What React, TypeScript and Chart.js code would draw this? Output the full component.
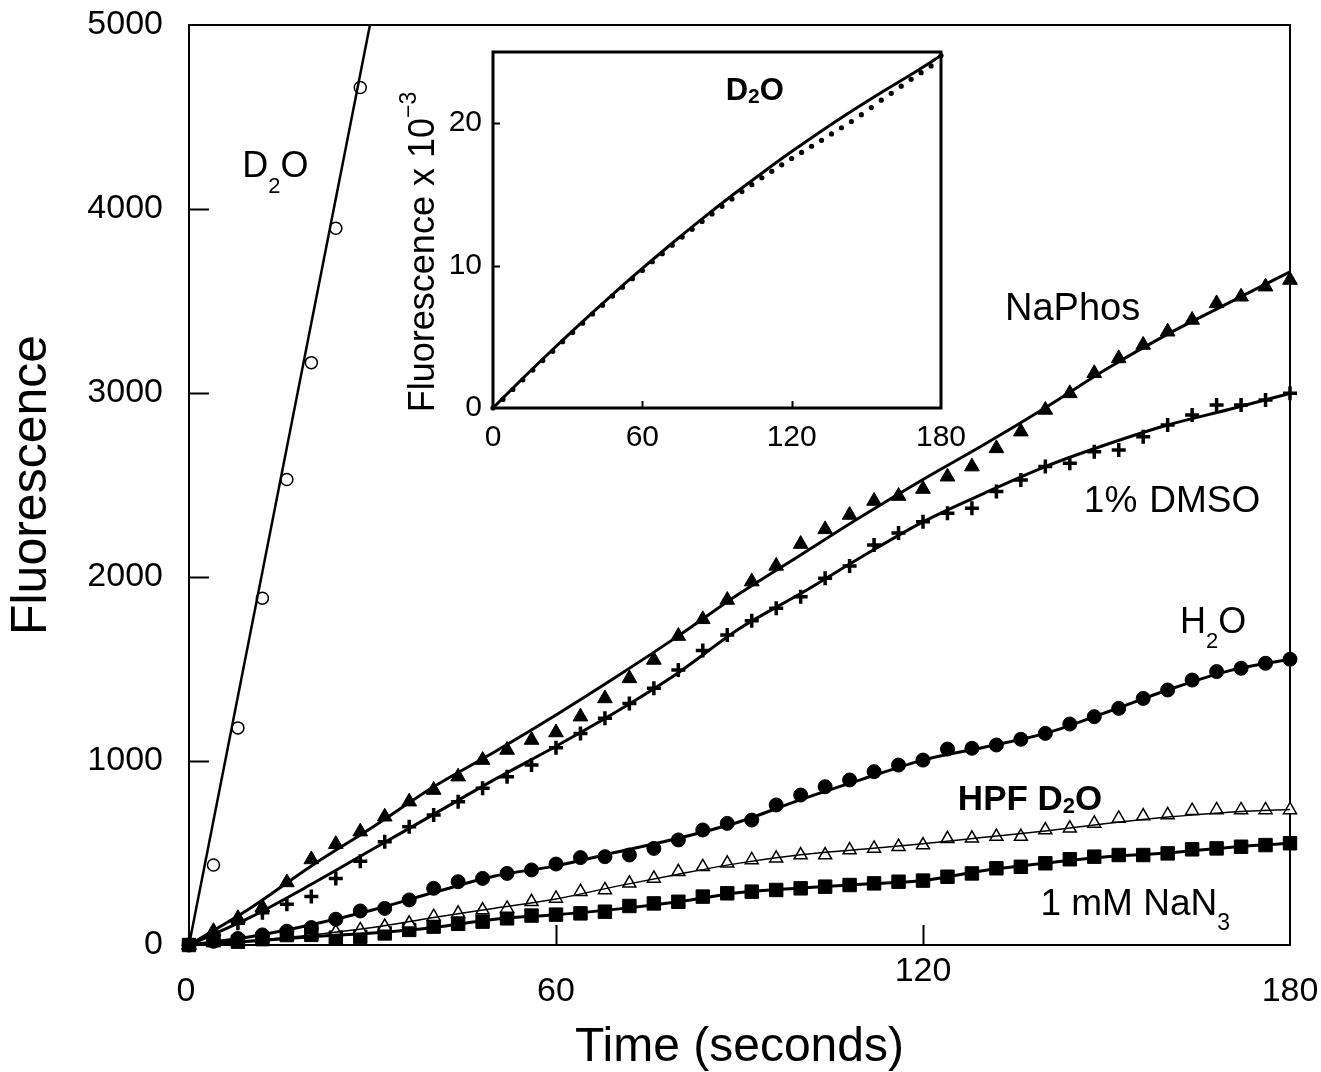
import React, { useEffect, useRef } from 'react';
import { Chart, registerables } from 'chart.js';

Chart.register(...registerables);

const FONT = '"Liberation Sans", Arial, Helvetica, sans-serif';

// ---------------- data (main panel) ----------------
const timeSec = [0, 4, 8, 12, 16, 20, 24, 28, 32, 36, 40, 44, 48, 52, 56, 60, 64, 68, 72, 76, 80, 84, 88, 92, 96, 100, 104, 108, 112, 116, 120, 124, 128, 132, 136, 140, 144, 148, 152, 156, 160, 164, 168, 172, 176, 180];
const fitTimeSec = [0, 10, 20, 30, 40, 50, 60, 70, 80, 90, 100, 110, 120, 130, 140, 150, 160, 170, 180];

const naPhosValues = [0, 75, 145, 205, 340, 465, 548, 616, 697, 779, 842, 915, 1005, 1060, 1114, 1155, 1241, 1340, 1449, 1549, 1679, 1770, 1875, 1975, 2060, 2179, 2259, 2337, 2413, 2440, 2478, 2545, 2600, 2699, 2790, 2908, 2998, 3107, 3188, 3261, 3333, 3397, 3487, 3523, 3578, 3614];
const dmsoValues = [0, 50, 118, 175, 222, 263, 362, 455, 561, 643, 707, 779, 852, 915, 978, 1072, 1150, 1232, 1313, 1395, 1495, 1600, 1685, 1762, 1830, 1893, 1993, 2060, 2174, 2239, 2300, 2346, 2373, 2464, 2527, 2600, 2618, 2681, 2690, 2762, 2826, 2880, 2935, 2935, 2962, 2998];
const h2oValues = [0, 20, 35, 55, 75, 95, 140, 185, 199, 245, 308, 344, 362, 389, 408, 440, 475, 480, 489, 525, 571, 625, 661, 679, 761, 815, 860, 897, 942, 978, 1005, 1065, 1069, 1087, 1118, 1150, 1201, 1241, 1286, 1340, 1386, 1440, 1486, 1504, 1531, 1553];
const hpfD2oValues = [0, 12, 25, 38, 48, 58, 70, 82, 100, 118, 154, 172, 190, 199, 235, 253, 290, 299, 335, 362, 398, 425, 444, 462, 471, 489, 489, 516, 525, 534, 543, 577, 580, 589, 589, 625, 634, 661, 688, 701, 707, 730, 734, 734, 734, 734];
const nan3Values = [0, 27, 18, 32, 54, 55, 40, 45, 63, 82, 100, 115, 127, 145, 160, 165, 172, 181, 212, 226, 235, 263, 281, 290, 299, 308, 317, 326, 335, 344, 350, 371, 389, 417, 425, 444, 466, 480, 489, 489, 498, 520, 525, 534, 543, 553];

const d2oTimeSec = [4, 8, 12, 16, 20, 24, 28];
const d2oValues = [435, 1180, 1885, 2530, 3165, 3895, 4660];
const d2oFitTimeSec = [0, 31];
const d2oFitValues = [0, 5240];

const naPhosFit = [0, 200, 430, 640, 860, 1050, 1250, 1460, 1680, 1910, 2120, 2330, 2530, 2720, 2920, 3130, 3320, 3490, 3659];
const dmsoFit = [0, 150, 330, 520, 710, 900, 1080, 1270, 1480, 1720, 1910, 2110, 2300, 2455, 2600, 2720, 2826, 2910, 2998];
const h2oFit = [0, 45, 110, 190, 285, 375, 430, 505, 580, 670, 790, 900, 1005, 1075, 1150, 1265, 1386, 1490, 1553];
const hpfD2oFit = [0, 25, 55, 95, 150, 200, 250, 320, 385, 445, 490, 520, 550, 585, 620, 660, 695, 722, 737];
const nan3Fit = [0, 20, 45, 65, 95, 140, 165, 195, 235, 285, 310, 330, 350, 405, 445, 480, 500, 530, 553];

const mainXTicks = [0, 60, 120, 180];

// ---------------- data (inset) ----------------
const insetDotValues = [0, 0.6, 1.3, 1.98, 2.66, 3.33, 3.98, 4.66, 5.3, 5.95, 6.6, 7.22, 7.86, 8.48, 9.08, 9.66, 10.27, 10.84, 11.43, 12.0, 12.55, 13.1, 13.63, 14.16, 14.68, 15.2, 15.68, 16.17, 16.62, 17.08, 17.52, 17.95, 18.38, 18.8, 19.25, 19.68, 20.12, 20.6, 21.1, 21.62, 22.1, 22.6, 23.08, 23.55, 24.02, 24.75];
const insetFitTimeSec = [0, 12, 24, 36, 48, 60, 72, 84, 96, 108, 120, 132, 144, 156, 168, 180];
const insetFitValues = [0, 2.09, 4.11, 6.07, 7.97, 9.8, 11.57, 13.28, 14.92, 16.49, 18.01, 19.46, 20.84, 22.16, 23.42, 24.75];

// ---------------- helpers ----------------
type Seg = { text: string; size: number; dy?: number; bold?: boolean };
type Note = { t: number; v: number; segs: Seg[] };

const pts = (xs: number[], ys: number[]) => xs.map((x, i) => ({ x, y: ys[i] }));

function drawSegs(ctx: CanvasRenderingContext2D, x: number, y: number, segs: Seg[]) {
  let cx = x;
  for (const s of segs) {
    ctx.font = `${s.bold ? 'bold ' : ''}${s.size}px ${FONT}`;
    ctx.fillText(s.text, cx, y + (s.dy || 0));
    cx += ctx.measureText(s.text).width;
  }
}
function segsWidth(ctx: CanvasRenderingContext2D, segs: Seg[]) {
  let w = 0;
  for (const s of segs) {
    ctx.font = `${s.bold ? 'bold ' : ''}${s.size}px ${FONT}`;
    w += ctx.measureText(s.text).width;
  }
  return w;
}

const mainNotes: Note[] = [
  { t: 8.7, v: 4174, segs: [{ text: 'D', size: 36 }, { text: '2', size: 22, dy: 16 }, { text: 'O', size: 36 }] },
  { t: 133.4, v: 3397, segs: [{ text: 'NaPhos', size: 38 }] },
  { t: 146.3, v: 2353, segs: [{ text: '1%', size: 37 }] },
  { t: 157.0, v: 2353, segs: [{ text: 'DMSO', size: 37 }] },
  { t: 162, v: 1696, segs: [{ text: 'H', size: 36 }, { text: '2', size: 22, dy: 15 }, { text: 'O', size: 36 }] },
  { t: 125.7, v: 734, segs: [{ text: 'HPF D', size: 35, bold: true }, { text: '2', size: 22, bold: true, dy: 3 }, { text: 'O', size: 35, bold: true }] },
  { t: 139.2, v: 163, segs: [{ text: '1 mM NaN', size: 37 }, { text: '3', size: 23, dy: 15 }] },
];
const insetNotes: Note[] = [
  { t: 93.5, v: 21.6, segs: [{ text: 'D', size: 31, bold: true }, { text: '2', size: 21, bold: true, dy: 3 }, { text: 'O', size: 31, bold: true }] },
];

function framePlugin(id: string, frameWidth: number, tickLen: number, tickWidth: number) {
  return {
    id,
    beforeDatasetsDraw(chart: any) {
      const { ctx, chartArea: a, scales } = chart;
      ctx.save();
      ctx.strokeStyle = '#000';
      ctx.lineWidth = tickWidth;
      const ys = scales.y;
      for (const t of ys.ticks) {
        if (t.value <= ys.min || t.value >= ys.max) continue;
        const y = Math.round(ys.getPixelForValue(t.value)) + 0.5;
        ctx.beginPath();
        ctx.moveTo(a.left, y);
        ctx.lineTo(a.left + tickLen, y);
        ctx.stroke();
      }
      const xs = scales.x;
      for (const t of xs.ticks) {
        if (t.value <= xs.min || t.value >= xs.max) continue;
        const x = Math.round(xs.getPixelForValue(t.value)) + 0.5;
        ctx.beginPath();
        ctx.moveTo(x, a.bottom);
        ctx.lineTo(x, a.bottom - tickLen);
        ctx.stroke();
      }
      ctx.lineWidth = frameWidth;
      ctx.strokeRect(a.left, a.top, a.right - a.left, a.bottom - a.top);
      ctx.restore();
    },
  };
}

function notesPlugin(id: string, notes: Note[]) {
  return {
    id,
    afterDraw(chart: any) {
      const { ctx, scales } = chart;
      ctx.save();
      ctx.fillStyle = '#000';
      ctx.textAlign = 'left';
      ctx.textBaseline = 'alphabetic';
      for (const n of notes) {
        drawSegs(ctx, scales.x.getPixelForValue(n.t), scales.y.getPixelForValue(n.v), n.segs);
      }
      ctx.restore();
    },
  };
}

const mainXLabelsPlugin = {
  id: 'mainXLabels',
  afterDraw(chart: any) {
    const { ctx, chartArea: a, scales } = chart;
    ctx.save();
    ctx.fillStyle = '#000';
    ctx.font = `34px ${FONT}`;
    ctx.textAlign = 'center';
    ctx.textBaseline = 'middle';
    for (const v of mainXTicks) {
      const px = scales.x.getPixelForValue(v);
      ctx.fillText(String(v), px - (v === 0 ? 3 : 0), a.bottom + (v === 120 ? 27 : 47));
    }
    ctx.restore();
  },
};

const insetTitlePlugin = {
  id: 'insetTitle',
  afterDraw(chart: any) {
    const { ctx, chartArea: a } = chart;
    const segs: Seg[] = [
      { text: 'Fluorescence x 10', size: 36 },
      { text: '\u22123', size: 23, dy: -18 },
    ];
    ctx.save();
    ctx.fillStyle = '#000';
    ctx.textBaseline = 'alphabetic';
    ctx.textAlign = 'left';
    ctx.translate(a.left - 59, (a.top + a.bottom) / 2 + 22);
    ctx.rotate(-Math.PI / 2);
    const w = segsWidth(ctx, segs);
    drawSegs(ctx, -w / 2, 0, segs);
    ctx.restore();
  },
};

const fitDs = (label: string, xs: number[], ys: number[], width: number) => ({
  label,
  data: pts(xs, ys),
  showLine: true,
  pointRadius: 0,
  borderColor: '#000',
  borderWidth: width,
  tension: 0.4,
  cubicInterpolationMode: 'monotone',
  clip: 0,
});

const markerDs = (label: string, xs: number[], ys: number[], style: any) => ({
  label,
  data: pts(xs, ys),
  showLine: false,
  clip: false,
  pointBorderColor: '#000',
  ...style,
});

export default function App() {
  const mainRef = useRef<HTMLCanvasElement>(null);
  const insetRef = useRef<HTMLCanvasElement>(null);

  useEffect(() => {
    const main = new Chart(mainRef.current!, {
      type: 'scatter',
      data: {
        datasets: [
          fitDs('D2O fit', d2oFitTimeSec, d2oFitValues, 2.5),
          fitDs('NaPhos fit', fitTimeSec, naPhosFit, 3),
          fitDs('1% DMSO fit', fitTimeSec, dmsoFit, 3),
          fitDs('H2O fit', fitTimeSec, h2oFit, 3),
          fitDs('HPF D2O fit', fitTimeSec, hpfD2oFit, 1.5),
          fitDs('1 mM NaN3 fit', fitTimeSec, nan3Fit, 3),
          markerDs('D2O', d2oTimeSec, d2oValues, { pointStyle: 'circle', pointRadius: 6, pointBackgroundColor: '#fff', pointBorderWidth: 1.5 }),
          markerDs('NaPhos', timeSec, naPhosValues, { pointStyle: 'triangle', pointRadius: 8.5, pointBackgroundColor: '#000', pointBorderWidth: 1 }),
          markerDs('1% DMSO', timeSec, dmsoValues, { pointStyle: 'cross', pointRadius: 7, pointBorderWidth: 3.5 }),
          markerDs('H2O', timeSec, h2oValues, { pointStyle: 'circle', pointRadius: 7, pointBackgroundColor: '#000', pointBorderWidth: 1 }),
          markerDs('HPF D2O', timeSec, hpfD2oValues, { pointStyle: 'triangle', pointRadius: 7.5, pointBackgroundColor: '#fff', pointBorderWidth: 1.5 }),
          markerDs('1 mM NaN3', timeSec, nan3Values, { pointStyle: 'rect', pointRadius: 9.5, pointBackgroundColor: '#000', pointBorderWidth: 1 }),
        ] as any,
      },
      options: {
        responsive: false,
        animation: false,
        devicePixelRatio: 1,
        layout: { padding: { top: 25, right: 31, left: 0, bottom: 0 } },
        plugins: { legend: { display: false }, tooltip: { enabled: false } },
        scales: {
          x: {
            type: 'linear',
            min: 0,
            max: 180,
            grid: { display: false, drawTicks: false },
            border: { display: false },
            ticks: { display: false, stepSize: 60, padding: 0 },
            title: { display: true, text: 'Time (seconds)', color: '#000', font: { family: FONT, size: 48, lineHeight: 1 }, padding: { top: 0, bottom: 0 } },
            afterFit: (s: any) => { s.height = 127; },
          },
          y: {
            type: 'linear',
            min: 0,
            max: 5000,
            grid: { display: false, drawTicks: true, tickLength: 26 },
            border: { display: false },
            ticks: {
              stepSize: 500,
              padding: 0,
              color: '#000',
              font: { family: FONT, size: 34 },
              callback: (v: any) => (Number(v) % 1000 === 0 ? String(v) : null),
            },
            title: { display: true, text: 'Fluorescence', color: '#000', font: { family: FONT, size: 50, lineHeight: 1 }, padding: { top: 7, bottom: 0 } },
            afterFit: (s: any) => { s.width = 189; },
          },
        },
      } as any,
      plugins: [framePlugin('mainFrame', 2, 20, 2), notesPlugin('mainNotes', mainNotes), mainXLabelsPlugin],
    });

    const inset = new Chart(insetRef.current!, {
      type: 'scatter',
      data: {
        datasets: [
          fitDs('D2O fit (inset)', insetFitTimeSec, insetFitValues, 3),
          markerDs('D2O (inset)', timeSec, insetDotValues, { pointStyle: 'circle', pointRadius: 2.6, pointBackgroundColor: '#000', pointBorderWidth: 0 }),
        ] as any,
      },
      options: {
        responsive: false,
        animation: false,
        devicePixelRatio: 1,
        layout: { padding: { top: 32, right: 54, left: 0, bottom: 0 } },
        plugins: { legend: { display: false }, tooltip: { enabled: false } },
        scales: {
          x: {
            type: 'linear',
            min: 0,
            max: 180,
            grid: { display: false, drawTicks: true, tickLength: 12 },
            border: { display: false },
            ticks: { stepSize: 60, padding: 0, color: '#000', font: { family: FONT, size: 30 }, maxRotation: 0 },
            afterFit: (s: any) => { s.height = 52; },
          },
          y: {
            type: 'linear',
            min: 0,
            max: 25,
            grid: { display: false, drawTicks: true, tickLength: 11 },
            border: { display: false },
            ticks: {
              stepSize: 5,
              padding: 0,
              color: '#000',
              font: { family: FONT, size: 30 },
              callback: (v: any) => (Number(v) % 10 === 0 ? String(v) : null),
            },
            afterFit: (s: any) => { s.width = 98; },
          },
        },
      } as any,
      plugins: [framePlugin('insetFrame', 3, 7, 2), notesPlugin('insetNotes', insetNotes), insetTitlePlugin],
    });

    return () => {
      main.destroy();
      inset.destroy();
    };
  }, []);

  return (
    <div style={{ position: 'fixed', left: 0, top: 0, width: 1321, height: 1072, background: '#fff', overflow: 'hidden' }}>
      <canvas ref={mainRef} width={1321} height={1072} style={{ position: 'absolute', left: 0, top: 0 }} />
      <canvas ref={insetRef} width={600} height={440} style={{ position: 'absolute', left: 395, top: 20 }} />
    </div>
  );
}
